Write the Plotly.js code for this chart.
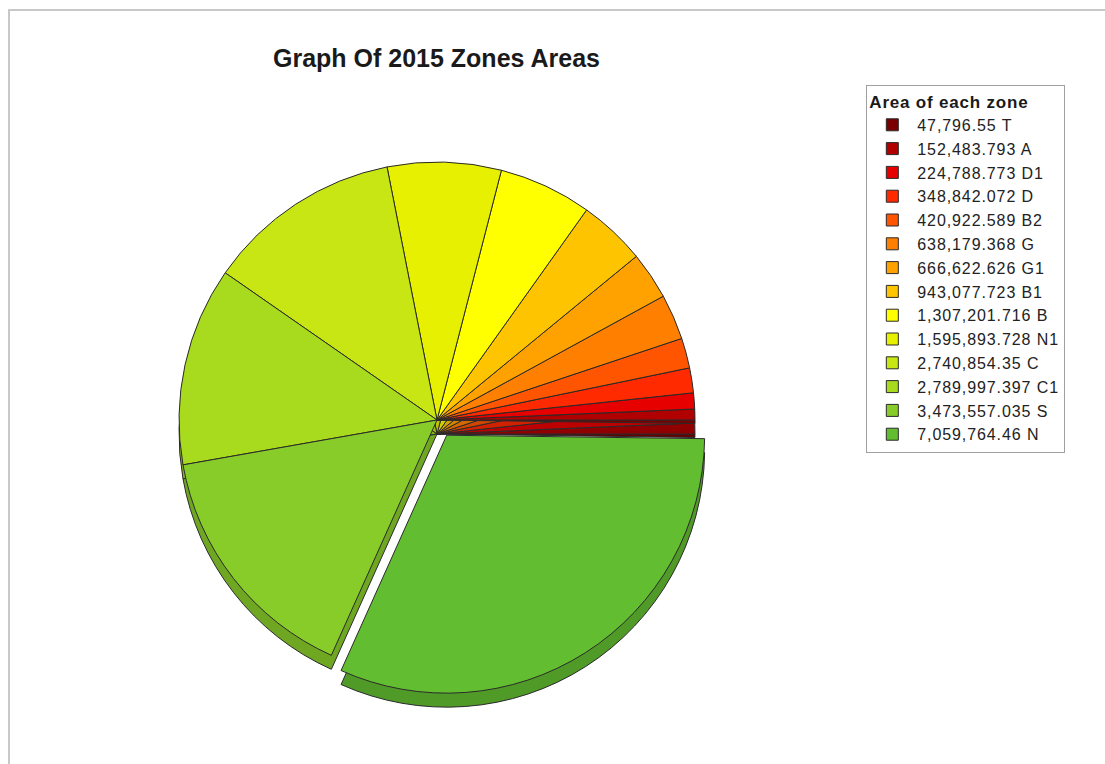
<!DOCTYPE html>
<html>
<head>
<meta charset="utf-8">
<script src="https://cdn.plot.ly/plotly-3.0.1.min.js"></script>
<style>
  html, body { margin: 0; padding: 0; background: #ffffff; }
  #frame { position: absolute; left: 8px; top: 9px; width: 1097px; height: 755px;
           border-left: 2px solid #c8c8c8; border-top: 2px solid #c8c8c8; box-sizing: border-box; pointer-events: none; }
  #chart { position: absolute; left: 0; top: 0; width: 1105px; height: 764px; }
  .legendtext { letter-spacing: 0.9px; }
  .legendtitletext { letter-spacing: 0.8px; }
</style>
</head>
<body>
<div id="chart"></div>
<div id="frame"></div>
<script>
// ---- data ----
const zones = ["T", "A", "D1", "D", "B2", "G", "G1", "B1", "B", "N1", "C", "C1", "S", "N"];
const areas = [47796.55, 152483.793, 224788.773, 348842.072, 420922.589, 638179.368,
               666622.626, 943077.723, 1307201.716, 1595893.728, 2740854.35,
               2789997.397, 3473557.035, 7059764.46];
const zoneColors = ["#7a0000", "#b00000", "#e60000", "#ff2a00", "#ff5500", "#ff8000",
                    "#ffa200", "#ffc400", "#ffff00", "#e6f000", "#c8e614", "#a8da1e",
                    "#88cc2a", "#62bd30"];
const pulled = ["N"];
const chartTitle = "Graph Of 2015 Zones Areas";
const legendTitle = "Area of each zone";

// ---- build ----
const fmt = v => v.toLocaleString("en-US", {maximumFractionDigits: 3});
const labels = zones.map((z, i) => fmt(areas[i]) + " " + z);
const darken = (hex, f) => {
  const n = parseInt(hex.slice(1), 16);
  const r = Math.round(((n >> 16) & 255) * f), g = Math.round(((n >> 8) & 255) * f), b = Math.round((n & 255) * f);
  return "rgb(" + r + "," + g + "," + b + ")";
};
const pullArr = zones.map(z => pulled.includes(z) ? 0.07 : 0);

// pie placement (pixel based -> paper domain)
const W = 1105, H = 764;
const cx = 437, cy = 420, half = 276, depth = 14;
const dom = (dy) => ({
  x: [(cx - half) / W, (cx + half) / W],
  y: [(H - (cy + dy + half)) / H, (H - (cy + dy - half)) / H]
});

const sideTrace = {
  type: "pie",
  labels: labels,
  values: areas,
  sort: false,
  direction: "counterclockwise",
  rotation: 90,
  pull: pullArr,
  textinfo: "none",
  hoverinfo: "skip",
  showlegend: false,
  marker: { colors: zoneColors.map(c => darken(c, 0.82)), line: { color: "#2a2a2a", width: 1 } },
  domain: dom(depth)
};

const faceTrace = {
  type: "pie",
  labels: labels,
  values: areas,
  sort: false,
  direction: "counterclockwise",
  rotation: 90,
  pull: pullArr,
  textinfo: "none",
  hoverinfo: "label+percent",
  marker: { colors: zoneColors, line: { color: "#2a2a2a", width: 1 } },
  domain: dom(0)
};

const layout = {
  width: W, height: H,
  margin: { l: 0, r: 0, t: 0, b: 0 },
  paper_bgcolor: "#ffffff",
  font: { family: "Arial, 'Liberation Sans', sans-serif", color: "#222222", size: 16 },
  title: {
    text: chartTitle,
    font: { family: "Arial, 'Liberation Sans', sans-serif", size: 25, color: "#1a1a1a", weight: "bold" },
    x: 0.395, xanchor: "center", xref: "paper",
    y: 0.924, yanchor: "middle", yref: "paper"
  },
  showlegend: true,
  legend: {
    x: 0.784, xanchor: "left", y: 0.889, yanchor: "top",
    bgcolor: "#ffffff", bordercolor: "#a0a0a0", borderwidth: 1,
    font: { family: "Arial, 'Liberation Sans', sans-serif", size: 16, color: "#222222" },
    title: { text: legendTitle, font: { size: 17, weight: "bold", color: "#1a1a1a" } },
    traceorder: "normal",
    itemwidth: 40
  }
};

Plotly.newPlot("chart", [sideTrace, faceTrace], layout, { displayModeBar: false, staticPlot: true });
</script>
</body>
</html>
